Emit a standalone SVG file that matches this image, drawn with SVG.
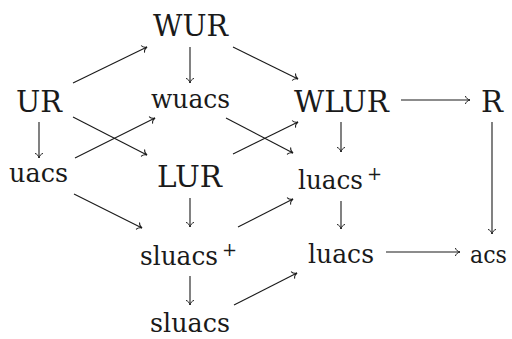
<svg xmlns="http://www.w3.org/2000/svg" width="512" height="339" viewBox="0 0 512 339">
<style>
text{font-family:'DejaVu Serif','Liberation Serif','Times New Roman',serif;font-size:29px;fill:#1a1a1a}
.lc{font-size:26px}
.c{text-anchor:middle}
.sup{font-size:18px}
.e{stroke:#1a1a1a;stroke-width:1.1;fill:none;marker-end:url(#ah)}
</style>
<defs>
<marker id="ah" markerUnits="userSpaceOnUse" markerWidth="12" markerHeight="12" viewBox="-6 -6 12 12" refX="0" refY="0" orient="auto">
<path d="M-4.5,-3.6 C-3.8,-1.6 -1.8,-0.4 0,0 C-1.8,0.4 -3.8,1.6 -4.5,3.6" stroke="#1a1a1a" stroke-width="1" fill="none" stroke-linecap="round"/>
</marker>
</defs>
<rect width="512" height="339" fill="#fff"/>
<g id="connectors">
<line class="e" x1="73" y1="83" x2="147" y2="47"/>
<line class="e" x1="190" y1="47" x2="190" y2="83"/>
<line class="e" x1="233" y1="47" x2="298" y2="79"/>
<line class="e" x1="39" y1="122" x2="39" y2="158"/>
<line class="e" x1="73" y1="117" x2="147" y2="155"/>
<line class="e" x1="75" y1="158" x2="155" y2="118"/>
<line class="e" x1="226" y1="118" x2="293" y2="153"/>
<line class="e" x1="233" y1="154" x2="298" y2="122"/>
<line class="e" x1="341" y1="122" x2="341" y2="152"/>
<line class="e" x1="401" y1="100" x2="470" y2="100"/>
<line class="e" x1="492" y1="122" x2="492" y2="234"/>
<line class="e" x1="74" y1="194" x2="142" y2="228"/>
<line class="e" x1="190" y1="198" x2="190" y2="227"/>
<line class="e" x1="238" y1="227" x2="293" y2="199"/>
<line class="e" x1="341" y1="201" x2="341" y2="229"/>
<line class="e" x1="386" y1="252" x2="460" y2="252"/>
<line class="e" x1="190" y1="276" x2="190" y2="305"/>
<line class="e" x1="234" y1="305" x2="297" y2="273"/>
</g>
<g id="WUR"><text x="153" y="36" textLength="75" lengthAdjust="spacingAndGlyphs">WUR</text></g>
<g id="UR"><text x="16" y="112" textLength="46" lengthAdjust="spacingAndGlyphs">UR</text></g>
<g id="wuacs"><text class="lc" x="151" y="108" textLength="79" lengthAdjust="spacingAndGlyphs">wuacs</text></g>
<g id="WLUR"><text x="294" y="112" textLength="95" lengthAdjust="spacingAndGlyphs">WLUR</text></g>
<g id="R"><text x="481" y="112" textLength="22" lengthAdjust="spacingAndGlyphs">R</text></g>
<g id="uacs"><text class="lc" x="9" y="182" textLength="59" lengthAdjust="spacingAndGlyphs">uacs</text></g>
<g id="LUR"><text x="157" y="187" textLength="65" lengthAdjust="spacingAndGlyphs">LUR</text></g>
<g id="luacs-plus"><text class="lc" x="298" y="189" textLength="65" lengthAdjust="spacingAndGlyphs">luacs</text><text class="sup" x="367" y="180">+</text></g>
<g id="sluacs-plus"><text class="lc" x="140" y="265" textLength="78" lengthAdjust="spacingAndGlyphs">sluacs</text><text class="sup" x="222" y="256">+</text></g>
<g id="luacs"><text class="lc" x="308" y="263" textLength="66" lengthAdjust="spacingAndGlyphs">luacs</text></g>
<g id="acs"><text x="470" y="263" font-size="24" style="font-size:24px" textLength="37" lengthAdjust="spacingAndGlyphs">acs</text></g>
<g id="sluacs"><text class="lc" x="150" y="332" textLength="80" lengthAdjust="spacingAndGlyphs">sluacs</text></g>
</svg>
